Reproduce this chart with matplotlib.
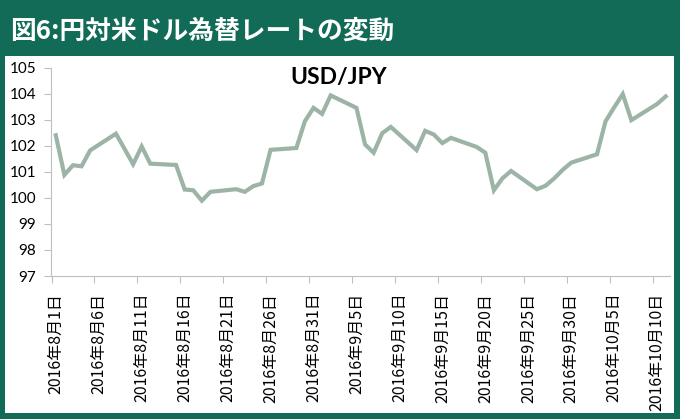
"""USD/JPY chart, Aug-Oct 2016"""
import datetime as dt

import matplotlib as mpl
mpl.use('Agg')  # no display
import matplotlib.pyplot as plt
import matplotlib.dates as mdates
from matplotlib.patches import Rectangle

# --- data ---
aug_days = [1, 2, 3, 4, 5, 8, 9, 10, 11, 12, 15, 16, 17, 18, 19,
            22, 23, 24, 25, 26, 29, 30, 31]
aug_vals = [102.40, 100.88, 101.25, 101.21, 101.82, 102.46, 101.88, 101.29,
            101.97, 101.31, 101.26, 100.32, 100.29, 99.89, 100.23,
            100.33, 100.23, 100.45, 100.55, 101.84, 101.91, 102.94, 103.45]
sep_days = [1, 2, 5, 6, 7, 8, 9, 12, 13, 14, 15, 16, 19, 20, 21, 22, 23,
            26, 27, 28, 29, 30]
sep_vals = [103.22, 103.93, 103.45, 102.05, 101.73, 102.48, 102.72,
            101.83, 102.57, 102.43, 102.10, 102.30, 101.95, 101.73,
            100.29, 100.75, 101.03, 100.33, 100.46, 100.74, 101.07, 101.35]
oct_days = [3, 4, 5, 6, 7, 10, 11]
oct_vals = [101.67, 102.94, 103.47, 103.98, 102.98, 103.60, 103.89]

tick_dates = [(8, 1), (8, 6), (8, 11), (8, 16), (8, 21), (8, 26), (8, 31),
              (9, 5), (9, 10), (9, 15), (9, 20), (9, 25), (9, 30),
              (10, 5), (10, 10)]
y_ticks = [97, 98, 99, 100, 101, 102, 103, 104, 105]

title = '図6:円対米ドル為替レートの変動'
series_name = 'USD/JPY'

GREEN = '#126b56'
LINE = '#9cb4a6'
AXIS = '#bfbfbf'

dates = ([dt.date(2016, 8, d) for d in aug_days]
         + [dt.date(2016, 9, d) for d in sep_days]
         + [dt.date(2016, 10, d) for d in oct_days])
values = aug_vals + sep_vals + oct_vals
x = mdates.date2num(dates)

W, H = 680, 419
fig = plt.figure(figsize=(W / 100, H / 100), dpi=100, facecolor=GREEN)

# white panel
fig.patches.append(Rectangle((5 / W, 6 / H), 669 / W, 357 / H,
                             transform=fig.transFigure, facecolor='white',
                             edgecolor='none', zorder=-1))

fig.text(10 / W, 1 - 31 / H, title, color='white', fontsize=18.5,
         fontweight='bold', family=['Noto Sans CJK JP', 'DejaVu Sans'],
         ha='left', va='center')

ax = fig.add_axes([51.5 / W, 1 - 276 / H, (670 - 51.5) / W, (276 - 67.5) / H])
ax.set_zorder(2)
ax.set_facecolor('none')
ax.plot(x, values, color=LINE, lw=3, solid_joinstyle='miter')

ax.set_ylim(97, 105)
ax.set_yticks(y_ticks)
ax.set_yticklabels([str(v) for v in y_ticks], family='Lato', fontsize=11)

xmin = x[0] - 0.5
xmax = x[-1] + 0.5
ax.set_xlim(xmin, xmax)
tick_num = mdates.date2num([dt.date(2016, m, d) for m, d in tick_dates])
# tick marks sit between the day slots, labels under the days themselves
ax.set_xticks(tick_num - 0.5)
ax.set_xticklabels([])
ax.set_xticks(tick_num, minor=True)
ax.set_xticklabels([f'2016年{m}月{d}日' for m, d in tick_dates], minor=True,
                   rotation=90, fontsize=11.5,
                   family=['Noto Sans CJK JP', 'DejaVu Sans'])
ax.tick_params(axis='x', which='minor', length=0, pad=12)
ax.tick_params(axis='both', which='major', length=5, color=AXIS, width=0.8)
ax.tick_params(axis='y', pad=6)

for side in ['top', 'right']:
    ax.spines[side].set_visible(False)
for side in ['left', 'bottom']:
    ax.spines[side].set_color(AXIS)
    ax.spines[side].set_linewidth(0.8)

fig.text(339 / W, 1 - 77.5 / H, series_name, fontsize=16.5, fontweight='bold',
         family='Lato', ha='center', va='center', zorder=3)

fig.savefig('out.png', dpi=100, facecolor=GREEN)
